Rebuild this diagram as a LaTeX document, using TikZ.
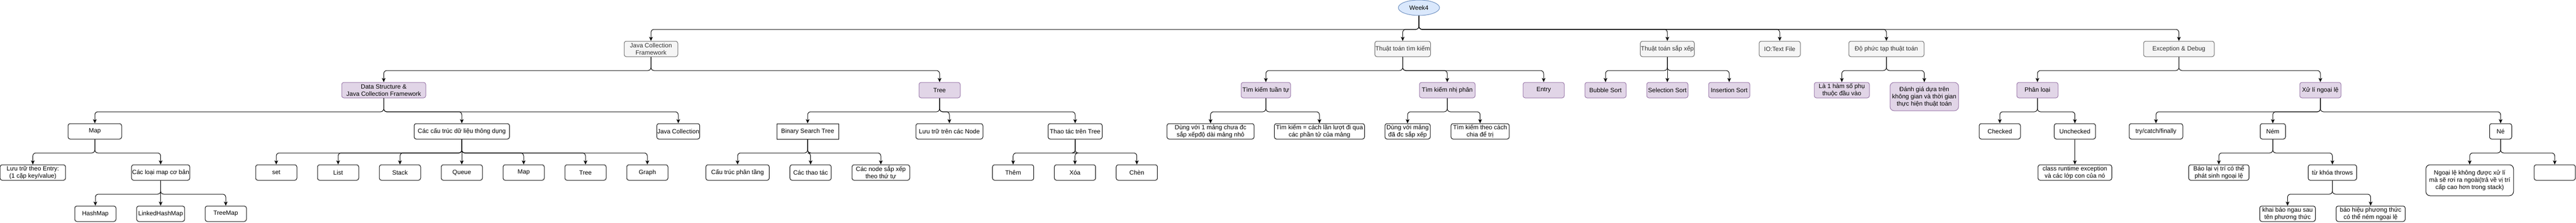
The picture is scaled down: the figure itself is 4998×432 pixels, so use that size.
\documentclass[tikz,border=0pt]{standalone}
\usepackage{fontspec}
\setmainfont{Liberation Sans}
\usetikzlibrary{arrows.meta,shapes.geometric}
\definecolor{greyfill}{HTML}{F5F5F5}
\definecolor{greyline}{HTML}{666666}
\definecolor{greytext}{HTML}{333333}
\definecolor{lilacfill}{HTML}{E1D5E7}
\definecolor{lilacline}{HTML}{9673A6}
\definecolor{bluefill}{HTML}{DAE8FC}
\definecolor{blueline}{HTML}{6C8EBF}
\begin{document}
\begin{tikzpicture}[x=1pt, y=-1pt,
  every node/.style={font=\fontsize{12}{14}\selectfont, align=center, inner sep=1pt, line width=1pt},
  plain/.style={shape=rectangle, draw=black, fill=white, rounded corners=4pt, minimum width=80pt, minimum height=30pt},
  grey/.style={plain, draw=greyline, fill=greyfill, text=greytext},
  lilac/.style={plain, draw=lilacline, fill=lilacfill},
  link/.style={draw=black, line width=1pt, rounded corners=6pt, -{Stealth[length=8pt,width=7pt,inset=2pt]}}]
\useasboundingbox (0,0) rectangle (4998,432);
% top
\node[shape=ellipse, draw=blueline, fill=bluefill, minimum width=80pt, minimum height=30pt, inner sep=0pt] (week) at (2753,15) {Week4};
% level 1
\node[grey, minimum width=104pt] (jcf) at (1263,95) {Java Collection\\Framework};
\node[grey, minimum width=107pt] (search) at (2721.5,95) {Thuật toán tìm kiếm};
\node[grey, minimum width=104pt] (sort) at (3235,95) {Thuật toán sắp xếp};
\node[grey] (io) at (3453,95) {IO:Text File};
\node[grey, minimum width=146pt] (cplx) at (3660,95) {Độ phức tạp thuật toán};
\node[grey, minimum width=137pt] (exc) at (4227.5,95) {Exception \& Debug};
% level 2
\node[lilac, minimum width=163pt] (ds) at (744.5,175) {Data Structure \&\\Java Collection Framework};
\node[lilac] (tree) at (1823,175) {Tree};
\node[lilac, minimum width=96pt] (seq) at (2456,175) {Tìm kiếm tuần tự};
\node[lilac, minimum width=108pt] (bin) at (2808,175) {Tìm kiếm nhị phân};
\node[lilac] (entry) at (2995,175) {Entry};
\node[lilac] (bubble) at (3115,175) {Bubble Sort};
\node[lilac] (selection) at (3235,175) {Selection Sort};
\node[lilac] (insertion) at (3355,175) {Insertion Sort};
\node[lilac, minimum width=107pt] (func) at (3573.5,175) {Là 1 hàm số phụ\\thuộc đầu vào};
\node[lilac, minimum width=133pt, minimum height=55pt, rounded corners=8pt] (eval) at (3733.5,187.5) {Đánh giá dựa trên\\không gian và thời gian\\thực hiện thuật toán};
\node[lilac] (kind) at (3953,175) {Phân loại};
\node[lilac] (handle) at (4502,175) {Xử lí ngoại lệ};
% level 3
\node[plain, minimum width=104pt] (map) at (184,255) {Map};
\node[plain, minimum width=185pt] (common) at (896,255) {Các cấu trúc dữ liệu thông dụng};
\node[plain] (jcoll) at (1316,255) {Java Collection};
\node[plain, rounded corners=0pt, minimum width=120pt] (bst) at (1567,255) {Binary Search Tree};
\node[plain, minimum width=130pt] (node) at (1842,255) {Lưu trữ trên các Node};
\node[plain, minimum width=105pt] (treeop) at (2086,255) {Thao tác trên Tree};
\node[plain, minimum width=169pt] (seqa) at (2348.7,255) {Dùng với 1 mảng chưa đc\\sắp xếpđộ dài mảng nhỏ};
\node[plain, minimum width=175pt] (seqb) at (2560,255) {Tìm kiếm = cách lần lượt đi qua\\các phần tử của mảng};
\node[plain, minimum width=88pt] (bina) at (2731,255) {Dùng với mảng\\đã đc sắp xếp};
\node[plain, minimum width=113pt] (binb) at (2871.7,255) {Tìm kiếm theo cách\\chia để trị};
\node[plain] (checked) at (3880,255) {Checked};
\node[plain] (unchecked) at (4025.7,255) {Unchecked};
\node[plain, minimum width=104pt] (try) at (4183,255) {try/catch/finally};
\node[plain, minimum width=49pt] (throw) at (4409.7,255) {Ném};
\node[plain, minimum width=43pt] (dodge) at (4851.7,255) {Né};
% level 4
\node[plain, minimum width=127pt] (entrykv) at (63.7,335) {Lưu trữ theo Entry:\\(1 cặp key/value)};
\node[plain, minimum width=113pt] (maptype) at (311.7,335) {Các loại map cơ bản};
\node[plain] (set) at (536,335) {set};
\node[plain] (list) at (656,335) {List};
\node[plain] (stack) at (776,335) {Stack};
\node[plain] (queue) at (896,335) {Queue};
\node[plain] (map2) at (1016,335) {Map};
\node[plain] (tree2) at (1136,335) {Tree};
\node[plain] (graph) at (1256,335) {Graph};
\node[plain, minimum width=123pt] (layer) at (1431,335) {Cấu trúc phân tầng};
\node[plain] (ops) at (1572.7,335) {Các thao tác};
\node[plain, minimum width=112pt] (sorted) at (1709,335) {Các node sắp xếp\\theo thứ tự};
\node[plain] (add) at (1965.7,335) {Thêm};
\node[plain] (del) at (2085.7,335) {Xóa};
\node[plain] (ins) at (2205.7,335) {Chèn};
\node[plain, minimum width=143pt] (runtime) at (4025.7,335) {class runtime exception\\và các lớp con của nó};
\node[plain, minimum width=117pt] (report) at (4305,335) {Báo lại vị trí có thể\\phát sinh ngoại lệ};
\node[plain, minimum width=94pt] (throws) at (4525.3,335) {từ khóa throws};
\node[plain, minimum width=170pt, minimum height=60pt, rounded corners=8pt] (fall) at (4791.7,350) {Ngoại lệ không được xử lí\\mà sẽ rơi ra ngoài(trả về vị trí\\cấp cao hơn trong stack)};
\node[plain] (blank) at (4956.7,335) {};
% level 5
\node[plain] (hash) at (185,415) {HashMap};
\node[plain, minimum width=93pt] (linked) at (311.7,415) {LinkedHashMap};
\node[plain] (treemap) at (438,415) {TreeMap};
\node[plain, minimum width=108pt] (decl) at (4438.3,415) {khai báo ngau sau\\tên phương thức};
\node[plain, minimum width=134pt] (signal) at (4599.5,415) {báo hiệu phương thức\\có thể ném ngoại lệ};
% links
\path[link] (week.south) -- ++(0,26.5) -| (jcf.north);
\path[link] (week.south) -- ++(0,26.5) -| (search.north);
\path[link] (week.south) -- ++(0,26.5) -| (sort.north);
\path[link] (week.south) -- ++(0,26.5) -| (io.north);
\path[link] (week.south) -- ++(0,26.5) -| (cplx.north);
\path[link] (week.south) -- ++(0,26.5) -| (exc.north);
\path[link] (jcf.south) -- ++(0,26.5) -| (ds.north);
\path[link] (jcf.south) -- ++(0,26.5) -| (tree.north);
\path[link] (search.south) -- ++(0,26.5) -| (seq.north);
\path[link] (search.south) -- ++(0,26.5) -| (bin.north);
\path[link] (search.south) -- ++(0,26.5) -| (entry.north);
\path[link] (sort.south) -- ++(0,26.5) -| (bubble.north);
\path[link] (sort.south) -- ++(0,26.5) -| (selection.north);
\path[link] (sort.south) -- ++(0,26.5) -| (insertion.north);
\path[link] (cplx.south) -- ++(0,26.5) -| (func.north);
\path[link] (cplx.south) -- ++(0,26.5) -| (eval.north);
\path[link] (exc.south) -- ++(0,26.5) -| (kind.north);
\path[link] (exc.south) -- ++(0,26.5) -| (handle.north);
\path[link] (ds.south) -- ++(0,26.5) -| (map.north);
\path[link] (ds.south) -- ++(0,26.5) -| (common.north);
\path[link] (ds.south) -- ++(0,26.5) -| (jcoll.north);
\path[link] (tree.south) -- ++(0,26.5) -| (bst.north);
\path[link] (tree.south) -- ++(0,26.5) -| (node.north);
\path[link] (tree.south) -- ++(0,26.5) -| (treeop.north);
\path[link] (seq.south) -- ++(0,26.5) -| (seqa.north);
\path[link] (seq.south) -- ++(0,26.5) -| (seqb.north);
\path[link] (bin.south) -- ++(0,26.5) -| (bina.north);
\path[link] (bin.south) -- ++(0,26.5) -| (binb.north);
\path[link] (kind.south) -- ++(0,26.5) -| (checked.north);
\path[link] (kind.south) -- ++(0,26.5) -| (unchecked.north);
\path[link] (handle.south) -- ++(0,26.5) -| (try.north);
\path[link] (handle.south) -- ++(0,26.5) -| (throw.north);
\path[link] (handle.south) -- ++(0,26.5) -| (dodge.north);
\path[link] (map.south) -- ++(0,26.5) -| (entrykv.north);
\path[link] (map.south) -- ++(0,26.5) -| (maptype.north);
\path[link] (common.south) -- ++(0,26.5) -| (set.north);
\path[link] (common.south) -- ++(0,26.5) -| (list.north);
\path[link] (common.south) -- ++(0,26.5) -| (stack.north);
\path[link] (common.south) -- ++(0,26.5) -| (queue.north);
\path[link] (common.south) -- ++(0,26.5) -| (map2.north);
\path[link] (common.south) -- ++(0,26.5) -| (tree2.north);
\path[link] (common.south) -- ++(0,26.5) -| (graph.north);
\path[link] (bst.south) -- ++(0,26.5) -| (layer.north);
\path[link] (bst.south) -- ++(0,26.5) -| (ops.north);
\path[link] (bst.south) -- ++(0,26.5) -| (sorted.north);
\path[link] (treeop.south) -- ++(0,26.5) -| (add.north);
\path[link] (treeop.south) -- ++(0,26.5) -| (del.north);
\path[link] (treeop.south) -- ++(0,26.5) -| (ins.north);
\path[link] (unchecked.south) -- (runtime.north);
\path[link] (throw.south) -- ++(0,26.5) -| (report.north);
\path[link] (throw.south) -- ++(0,26.5) -| (throws.north);
\path[link] (dodge.south) -- ++(0,26.5) -| (fall.north);
\path[link] (dodge.south) -- ++(0,26.5) -| (blank.north);
\path[link] (maptype.south) -- ++(0,26.5) -| (hash.north);
\path[link] (maptype.south) -- ++(0,26.5) -| (linked.north);
\path[link] (maptype.south) -- ++(0,26.5) -| (treemap.north);
\path[link] (throws.south) -- ++(0,26.5) -| (decl.north);
\path[link] (throws.south) -- ++(0,26.5) -| (signal.north);
\end{tikzpicture}
\end{document}
